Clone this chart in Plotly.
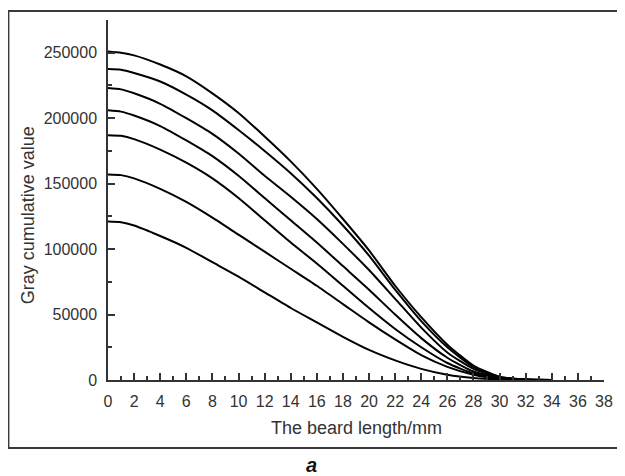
import plotly.graph_objects as go

# Beard length (mm)
beard_length = [0, 1, 2, 4, 6, 8, 10, 12, 14, 16, 18, 20, 22, 24, 26, 28, 30, 32, 34]

# Gray cumulative values, one list per curve (top to bottom)
curve_1 = [251000, 250000, 248000, 241000, 232000, 219000, 204000, 186000, 167000, 146000, 123000, 99000, 72000, 48000, 27000, 11000, 2500, 300, 0]
curve_2 = [237500, 237000, 234500, 228000, 218000, 206000, 191000, 175000, 158000, 139000, 118000, 95000, 69000, 45000, 25000, 10000, 2300, 300, 0]
curve_3 = [223000, 222000, 219000, 211000, 200000, 188000, 173000, 156000, 140000, 123000, 104000, 84000, 62000, 40000, 21000, 8500, 2000, 300, 0]
curve_4 = [206000, 205000, 202000, 194000, 183000, 171000, 156000, 139000, 122000, 105000, 87000, 69000, 50000, 32000, 17000, 6500, 1500, 200, 0]
curve_5 = [187000, 186500, 184000, 176000, 166000, 154000, 139000, 122000, 105000, 89000, 72000, 55000, 39000, 25000, 13000, 5000, 1200, 200, 0]
curve_6 = [157000, 156500, 154000, 146000, 136000, 124000, 111000, 98000, 85000, 72000, 58000, 44000, 31000, 19000, 10000, 4000, 1000, 100, 0]
curve_7 = [121000, 120500, 118000, 110000, 101000, 90000, 79000, 67000, 55000, 44000, 33000, 23000, 15000, 8500, 4000, 1500, 400, 50, 0]

curves = [curve_1, curve_2, curve_3, curve_4, curve_5, curve_6, curve_7]

x_ticks = list(range(0, 39, 2))
y_ticks = [0, 50000, 100000, 150000, 200000, 250000]

FONT = "Liberation Sans, Arial, sans-serif"
TXT = "#333333"

fig = go.Figure()
for c in curves:
    fig.add_trace(go.Scatter(
        x=beard_length, y=c, mode="lines",
        line=dict(color="black", width=2, shape="spline", smoothing=0.6),
        showlegend=False, hoverinfo="skip",
    ))

axis_common = dict(
    showline=True, linecolor="#333333", linewidth=1.5,
    showgrid=False, zeroline=False,
    ticks="inside", ticklen=7, tickwidth=1.5, tickcolor="#333333",
    tickfont=dict(family=FONT, size=16, color=TXT),
    ticklabelstandoff=6,
)

fig.update_xaxes(
    range=[0, 38], tickvals=x_ticks, ticktext=[str(v) for v in x_ticks],
    minor=dict(dtick=1, tick0=0, ticks="inside", ticklen=4, tickwidth=1.5, tickcolor="#333333"),
    **axis_common,
)
fig.update_yaxes(
    range=[0, 275000], tickvals=y_ticks, ticktext=[str(v) for v in y_ticks],
    minor=dict(dtick=25000, tick0=0, ticks="inside", ticklen=4, tickwidth=1.5, tickcolor="#333333"),
    **axis_common,
)

fig.add_annotation(text="The beard length/mm", xref="paper", yref="paper",
                   x=0.502, y=-0.133, xanchor="center", yanchor="middle",
                   showarrow=False, font=dict(family=FONT, size=18, color=TXT))
fig.add_annotation(text="Gray cumulative value", xref="paper", yref="paper",
                   x=-0.161, y=0.458, xanchor="center", yanchor="middle", textangle=-90,
                   showarrow=False, font=dict(family=FONT, size=18, color=TXT))
fig.add_annotation(text="<b><i>a</i></b>", xref="paper", yref="paper",
                   x=0.41, y=-0.236, xanchor="center", yanchor="middle",
                   showarrow=False, font=dict(family=FONT, size=20, color="#111111"))

fig.add_shape(type="rect", xref="paper", yref="paper",
              x0=-0.2008, x1=1.08, y0=-0.189, y1=1.025,
              line=dict(color="#3a3a3a", width=2), fillcolor="rgba(0,0,0,0)", layer="below")

# the page body adds an 8px offset; size the figure so the plot lands where the reference has it
fig.update_layout(
    width=617, height=468,
    margin=dict(l=100, r=19, t=12, b=96),
    paper_bgcolor="white", plot_bgcolor="white",
    font=dict(family=FONT, color=TXT),
)

fig.write_html("out.html")
